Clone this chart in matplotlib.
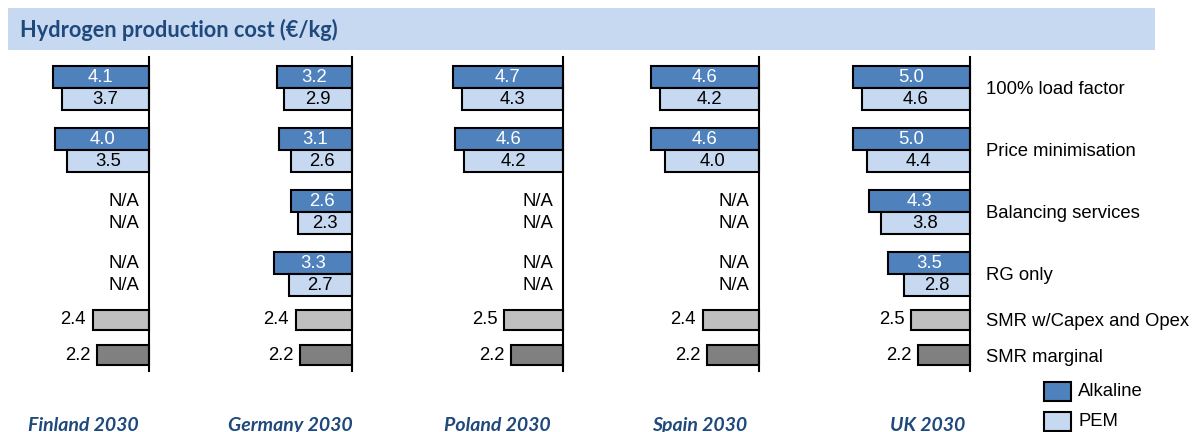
import matplotlib
matplotlib.use("Agg")
import matplotlib.pyplot as plt
from matplotlib.patches import Rectangle
import numpy as np

nan = np.nan

countries = ["Finland 2030", "Germany 2030", "Poland 2030", "Spain 2030", "UK 2030"]
scenarios = ["100% load factor", "Price minimisation", "Balancing services", "RG only"]
smr_labels = ["SMR w/Capex and Opex", "SMR marginal"]

alkaline = {
    "Finland 2030": [4.1, 4.0, nan, nan],
    "Germany 2030": [3.2, 3.1, 2.6, 3.3],
    "Poland 2030": [4.7, 4.6, nan, nan],
    "Spain 2030": [4.6, 4.6, nan, nan],
    "UK 2030": [5.0, 5.0, 4.3, 3.5],
}
pem = {
    "Finland 2030": [3.7, 3.5, nan, nan],
    "Germany 2030": [2.9, 2.6, 2.3, 2.7],
    "Poland 2030": [4.3, 4.2, nan, nan],
    "Spain 2030": [4.2, 4.0, nan, nan],
    "UK 2030": [4.6, 4.4, 3.8, 2.8],
}
smr_capex = [2.4, 2.4, 2.5, 2.4, 2.5]
smr_marginal = [2.2, 2.2, 2.2, 2.2, 2.2]

# ---- styling / layout ----
W, H = 1194, 432
C_ALK = "#4F81BD"
C_PEM = "#C6D9F1"
C_CAPEX = "#BFBFBF"
C_MARG = "#808080"
C_TITLE = "#1F497D"
C_BAND = "#C6D9F1"
SANS = ["Liberation Sans", "DejaVu Sans"]
HEAD = ["Lato", "Open Sans", "DejaVu Sans"]
FS = 13.3

axis_px = [149, 352, 563, 759, 970]      # x of each panel's vertical axis
label_cx = [83, 290, 497, 700, 928]      # country label centres
px_per_unit = 23.5
xmax = 5.6
top_px, bot_px = 57, 371
row_px = 62.0
first_row_px = 88.0
row_pos = [0, 1, 2, 3]
smr_pos = [(320 - first_row_px) / row_px, (355 - first_row_px) / row_px]
bh = 22 / row_px
bh_smr = 20 / row_px

fig = plt.figure(figsize=(W / 100, H / 100), dpi=100)

# header band
fig.patches.append(Rectangle((8 / W, 1 - 50 / H), (1155 - 8) / W, 42 / H,
                             transform=fig.transFigure, facecolor=C_BAND,
                             edgecolor="none", zorder=0))
fig.text(20 / W, 1 - 30 / H, "Hydrogen production cost (€/kg)", family=HEAD,
         fontsize=15.7, fontweight="bold", color=C_TITLE, va="center", ha="left")

ylo = (top_px - first_row_px) / row_px
yhi = (bot_px - first_row_px) / row_px

for i, c in enumerate(countries):
    wpx = xmax * px_per_unit
    ax = fig.add_axes([(axis_px[i] - wpx) / W, 1 - bot_px / H, wpx / W,
                       (bot_px - top_px) / H])
    ax.set_xlim(xmax, 0)
    ax.set_ylim(yhi, ylo)
    for s in ["left", "top", "bottom"]:
        ax.spines[s].set_visible(False)
    ax.spines["right"].set_linewidth(1.5)
    ax.set_xticks([])
    ax.set_yticks([])
    ax.patch.set_alpha(0)

    for r, a, p in zip(row_pos, alkaline[c], pem[c]):
        if np.isnan(a):
            ax.text(0.4, r - bh / 2, "N/A", ha="right", va="center",
                    family=SANS, fontsize=FS, color="black")
            ax.text(0.4, r + bh / 2, "N/A", ha="right", va="center",
                    family=SANS, fontsize=FS, color="black")
            continue
        ax.barh(r - bh / 2, a, height=bh, color=C_ALK, edgecolor="black",
                linewidth=1.5, clip_on=False)
        ax.barh(r + bh / 2, p, height=bh, color=C_PEM, edgecolor="black",
                linewidth=1.5, clip_on=False)
        ax.text(a / 2, r - bh / 2, f"{a:.1f}", ha="center", va="center",
                family=SANS, fontsize=FS, color="white")
        ax.text(p / 2, r + bh / 2, f"{p:.1f}", ha="center", va="center",
                family=SANS, fontsize=FS, color="black")

    for pos, v, col in zip(smr_pos, [smr_capex[i], smr_marginal[i]], [C_CAPEX, C_MARG]):
        ax.barh(pos, v, height=bh_smr, color=col, edgecolor="black",
                linewidth=1.5, clip_on=False)
        ax.text(v + 0.28, pos, f"{v:.1f}", ha="right", va="center",
                family=SANS, fontsize=FS, color="black")

    fig.text(label_cx[i] / W, 1 - 431 / H, c, ha="center", va="baseline",
             family=HEAD, fontsize=14, fontweight="bold", style="italic",
             color=C_TITLE)

    if i == len(countries) - 1:
        for r, lab in zip(row_pos, scenarios):
            ax.text(-0.68, r, lab, ha="left", va="center_baseline", family=SANS,
                    fontsize=FS, color="black", clip_on=False)
        for pos, lab in zip(smr_pos, smr_labels):
            ax.text(-0.68, pos, lab, ha="left", va="center_baseline", family=SANS,
                    fontsize=FS, color="black", clip_on=False)

# legend
for (y0, col, lab) in [(382, C_ALK, "Alkaline"), (412, C_PEM, "PEM")]:
    fig.patches.append(Rectangle((1044 / W, 1 - (y0 + 19) / H), 27 / W, 19 / H,
                                 transform=fig.transFigure, facecolor=col,
                                 edgecolor="black", linewidth=1.5))
    fig.text(1078 / W, 1 - (y0 + 10) / H, lab, ha="left", va="center",
             family=SANS, fontsize=FS, color="black")

fig.savefig("out.png", dpi=100)
